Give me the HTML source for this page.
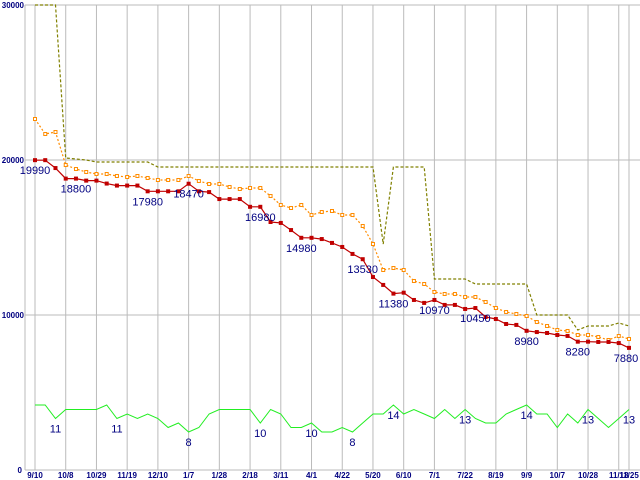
<!DOCTYPE html>
<html><head><meta charset="utf-8"><style>
html,body{margin:0;padding:0;background:#fff;}
svg{display:block;font-family:"Liberation Sans",sans-serif;}
</style></head><body>
<svg id="chart" width="640" height="480" viewBox="0 0 640 480" xmlns="http://www.w3.org/2000/svg"></svg>
<script>
const tickIdx = [0,3,6,9,12,15,18,21,24,27,30,33,36,39,42,45,48,51,54,57,58];
const tickLabels = ["9/10","10/8","10/29","11/19","12/10","1/7","1/28","2/18","3/11","4/1","4/22","5/20","6/10","7/1","7/22","8/19","9/9","10/7","10/28","11/18","11/25"];
const yTicks = [0,10000,20000,30000];
const redVals = [19990,19990,19480,18800,18800,18670,18670,18480,18350,18350,18350,17980,17980,17980,17980,18470,17980,17930,17480,17480,17480,16980,16980,16000,15940,15480,14980,14980,14900,14650,14390,13940,13600,12450,11940,11380,11440,10970,10780,10970,10650,10650,10390,10450,9870,9740,9420,9360,8980,8900,8840,8710,8650,8280,8280,8260,8260,8190,7880];
const orangeY = [119,134,132,165,169,172,174,174,176,177,176,178,180,180,180,176,181,184,184,187,189,188,188,196,205,208,205,215,212,211,215,215,226,244,270,268,270,281,284,292,294,294,297,297,302,308,312,314,316,322,326,330,331,335,335,337,340,336,339];
const oliveY = [5,5,5,158,159,160,162,162,162,162,162,162,167,167,167,167,167,167,167,167,167,167,167,167,167,167,167,167,167,167,167,167,167,167,244,167,167,167,167,279,279,279,279,284,284,284,284,284,284,315,315,315,315,330,326,326,326,323,326];
const orangeVals = orangeY.map(y => Math.round((470 - y) * 30000 / 465));
const oliveVals = oliveY.map(y => Math.round((470 - y) * 30000 / 465));
const greenVals = [14,14,11,13,13,13,13,14,11,12,11,12,11,9,10,8,9,12,13,13,13,13,10,13,12,9,9,10,8,8,9,8,10,12,12,14,12,13,12,11,13,11,13,11,10,10,12,13,14,12,12,9,12,10,13,11,9,11,13];
const redLabels = [[0,"19990"],[4,"18800"],[11,"17980"],[15,"18470"],[22,"16980"],[26,"14980"],[32,"13530"],[35,"11380"],[39,"10970"],[43,"10450"],[48,"8980"],[53,"8280"],[58,"7880"]];
const greenLabels = [[2,"11"],[8,"11"],[15,"8"],[22,"10"],[27,"10"],[31,"8"],[35,"14"],[42,"13"],[48,"14"],[54,"13"],[58,"13"]];

const svg = document.getElementById('chart');
const NS = 'http://www.w3.org/2000/svg';
const N = redVals.length;
const x = i => 35 + i * 594 / (N - 1);
const y = v => 470 - v * 465 / 30000;
const gy = v => 468 - v * 4.5;
function mk(tag, attrs, parent) {
  const e = document.createElementNS(NS, tag);
  for (const k in attrs) e.setAttribute(k, attrs[k]);
  (parent || svg).appendChild(e);
  return e;
}
const grid = mk('g', {});


mk('line', {x1:25, y1:5, x2:25, y2:470, stroke:'#bbb'}, grid);
tickIdx.forEach((ti, k) => {
  const l = mk('line', {x1:x(ti), y1:5, x2:x(ti), y2:470, stroke:'#bbb'}, grid);
  
  
  const t = mk('text', {x:x(ti), y:478, 'font-size':8, fill:'#000080', 'text-anchor':'middle', 'font-weight':'bold'});
  t.textContent = tickLabels[k];
  
  
});
yTicks.forEach(v => {
  const l = mk('line', {x1:25, y1:y(v), x2:640, y2:y(v), stroke:'#bbb'}, grid);
  
  
  const t = mk('text', {x:v===0?22:24, y:y(v)+(v===30000?3:3), 'font-size':8, fill:'#000080', 'text-anchor':'end', 'font-weight':'bold'});
  t.textContent = String(v);
  
  
});
function pts(vals, f) { return vals.map((v, i) => x(i).toFixed(1) + ',' + f(v).toFixed(1)).join(' '); }

const olive = mk('polyline', {points:pts(oliveVals, y), fill:'none', stroke:'#808000', 'stroke-width':1.2, 'stroke-dasharray':'3,2'});



const orange = mk('polyline', {points:pts(orangeVals, y), fill:'none', stroke:'#ff8c00', 'stroke-width':1.2, 'stroke-dasharray':'2,2'});


orangeVals.forEach((v, i) => {
  const r = mk('rect', {x:x(i)-1.5, y:y(v)-1.5, width:3, height:3, fill:'#fff', stroke:'#ff8c00', 'stroke-width':1});
  
  
});

const red = mk('polyline', {points:pts(redVals, y), fill:'none', stroke:'#c00000', 'stroke-width':1.2});


redVals.forEach((v, i) => {
  const r = mk('rect', {x:x(i)-2, y:y(v)-2, width:4, height:4, fill:'#c00000'});
  
  
});

const green = mk('polyline', {points:pts(greenVals, gy), fill:'none', stroke:'#22ee22', 'stroke-width':1});



redLabels.forEach(([i, s]) => {
  const t = mk('text', {x:Math.min(x(i), 626), y:y(redVals[i])+14, 'font-size':11, fill:'#000080', 'text-anchor':'middle'});
  t.textContent = s;
  
  
});
greenLabels.forEach(([i, s]) => {
  const t = mk('text', {x:x(i), y:gy(greenVals[i])+14, 'font-size':11, fill:'#000080', 'text-anchor':'middle'});
  t.textContent = s;
  
  
});
</script>
</body></html>
